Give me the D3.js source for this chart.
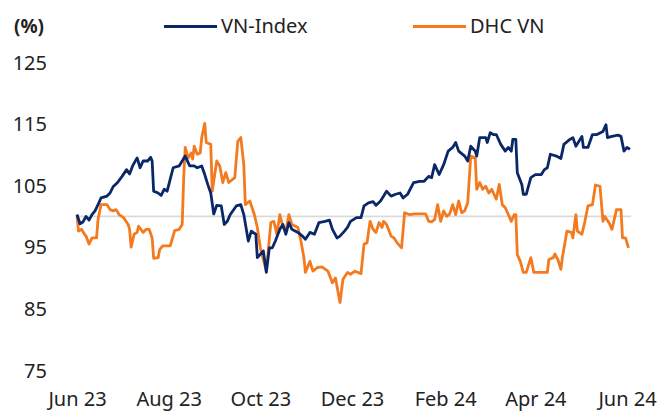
<!DOCTYPE html>
<html>
<head>
<meta charset="utf-8">
<script src="https://cdn.jsdelivr.net/npm/d3@7"></script>
<style>
  body { margin: 0; background: #fff; }
  svg { display: block; font-family: 'Noto Sans', 'Open Sans', sans-serif; }
</style>
</head>
<body>
<svg id="chart" width="661" height="411"></svg>
<script>

// series, rebased to 100 at start (%)
var vnDates = [
  '2023-06-01','2023-06-03','2023-06-05','2023-06-07','2023-06-09','2023-06-11','2023-06-13','2023-06-15','2023-06-17','2023-06-21','2023-06-23','2023-06-25','2023-06-28',
  '2023-07-01','2023-07-04','2023-07-06','2023-07-08','2023-07-11','2023-07-13','2023-07-15','2023-07-18','2023-07-20','2023-07-21','2023-07-22','2023-07-25','2023-07-27','2023-07-29','2023-07-31',
  '2023-08-02','2023-08-04','2023-08-08','2023-08-12','2023-08-15','2023-08-18','2023-08-20','2023-08-23','2023-08-25','2023-08-27','2023-08-29','2023-08-31',
  '2023-09-02','2023-09-05','2023-09-07','2023-09-09','2023-09-11','2023-09-15','2023-09-18','2023-09-20','2023-09-23','2023-09-25','2023-09-28','2023-09-29',
  '2023-10-03','2023-10-05','2023-10-07','2023-10-09','2023-10-11','2023-10-14','2023-10-16','2023-10-18','2023-10-20','2023-10-22','2023-10-26','2023-10-29','2023-10-31',
  '2023-11-03','2023-11-06','2023-11-09','2023-11-13','2023-11-16','2023-11-18','2023-11-21','2023-11-23','2023-11-26','2023-11-28','2023-11-30',
  '2023-12-04','2023-12-07','2023-12-09','2023-12-12','2023-12-15','2023-12-17','2023-12-20','2023-12-24','2023-12-27','2023-12-30',
  '2024-01-02','2024-01-04','2024-01-07','2024-01-11','2024-01-15','2024-01-18','2024-01-21','2024-01-23','2024-01-25','2024-01-28','2024-01-31',
  '2024-02-03','2024-02-06','2024-02-08','2024-02-10','2024-02-14','2024-02-16','2024-02-18','2024-02-21','2024-02-22','2024-02-24','2024-02-28','2024-02-29',
  '2024-03-02','2024-03-04','2024-03-06','2024-03-09','2024-03-12','2024-03-14','2024-03-16','2024-03-17','2024-03-19','2024-03-20','2024-03-23','2024-03-24','2024-03-26','2024-03-29',
  '2024-04-01','2024-04-05','2024-04-07','2024-04-09','2024-04-11','2024-04-15','2024-04-18','2024-04-20','2024-04-24','2024-04-26','2024-04-28','2024-04-30',
  '2024-05-02','2024-05-03','2024-05-06','2024-05-09','2024-05-12','2024-05-16','2024-05-18','2024-05-19','2024-05-22','2024-05-26','2024-05-28','2024-05-30',
  '2024-06-01','2024-06-03'
]
var vnValues = [
  100.3, 98.8, 99.1, 100.0, 99.4, 100.3, 100.9, 101.9, 103.0, 103.3, 103.8, 104.8, 105.5,
  106.5, 107.6, 106.9, 108.2, 109.5, 107.9, 109.0, 109.0, 109.6, 109.0, 104.1, 103.8, 103.4, 104.4, 104.1,
  106.0, 107.9, 108.2, 109.8, 108.2, 108.2, 107.9, 108.2, 106.8, 105.2, 103.8, 100.4,
  101.8, 101.7, 98.7, 99.2, 100.3, 101.7, 101.9, 100.3, 96.0, 97.6, 97.1, 93.3,
  94.4, 90.9, 94.9, 94.9, 96.0, 97.9, 98.7, 97.1, 99.0, 97.9, 97.4, 96.8, 96.3,
  97.4, 97.1, 99.0, 99.2, 99.4, 97.9, 96.5, 96.8, 97.6, 98.2, 99.2,
  99.8, 99.8, 101.7, 102.2, 102.4, 101.8, 102.5, 104.1, 103.3, 103.6,
  103.8, 103.0, 103.6, 105.5, 105.7, 105.7, 106.5, 106.3, 108.4, 106.8, 108.4,
  110.6, 111.2, 112.0, 110.6, 109.8, 109.0, 111.4, 110.6, 109.8, 112.8, 112.8, 112.0,
  113.6, 113.3, 113.3, 111.7, 110.6, 111.2, 110.6, 112.5, 112.5, 107.1, 105.2, 103.6, 103.6, 106.3,
  106.8, 106.8, 107.6, 107.9, 110.1, 109.8, 109.4, 111.7, 112.5, 112.8, 111.4, 112.2,
  113.0, 111.2, 111.2, 113.3, 113.3, 113.8, 114.9, 112.8, 113.0, 113.2, 113.0, 110.6,
  111.2, 110.9
]

var dhcDates = [
  '2023-06-01','2023-06-02','2023-06-04','2023-06-06','2023-06-07','2023-06-09','2023-06-11','2023-06-14','2023-06-15','2023-06-17','2023-06-21','2023-06-23','2023-06-25','2023-06-27','2023-06-29',
  '2023-07-02','2023-07-05','2023-07-06','2023-07-07','2023-07-09','2023-07-11','2023-07-12','2023-07-15','2023-07-17','2023-07-19','2023-07-21','2023-07-22','2023-07-25','2023-07-26','2023-07-28',
  '2023-08-02','2023-08-03','2023-08-05','2023-08-08','2023-08-10','2023-08-11','2023-08-12','2023-08-14','2023-08-16','2023-08-17','2023-08-18','2023-08-20','2023-08-22','2023-08-23','2023-08-25','2023-08-26','2023-08-29','2023-08-30',
  '2023-09-02','2023-09-04','2023-09-06','2023-09-08','2023-09-10','2023-09-14','2023-09-16','2023-09-18','2023-09-20','2023-09-21','2023-09-24','2023-09-27','2023-09-29',
  '2023-10-01','2023-10-05','2023-10-08','2023-10-10','2023-10-12','2023-10-14','2023-10-16','2023-10-18','2023-10-20','2023-10-22','2023-10-26','2023-10-28','2023-10-30','2023-10-31',
  '2023-11-03','2023-11-05','2023-11-08','2023-11-11','2023-11-15','2023-11-18','2023-11-20','2023-11-23','2023-11-25','2023-11-28','2023-11-30',
  '2023-12-03','2023-12-07','2023-12-09','2023-12-11','2023-12-13','2023-12-15','2023-12-17','2023-12-19','2023-12-21','2023-12-22','2023-12-24','2023-12-27','2023-12-29','2023-12-31',
  '2024-01-03','2024-01-05','2024-01-08','2024-01-12','2024-01-19','2024-01-21','2024-01-23','2024-01-25','2024-01-27','2024-01-29','2024-01-31',
  '2024-02-02','2024-02-04','2024-02-06','2024-02-08','2024-02-10','2024-02-12','2024-02-14','2024-02-16','2024-02-18','2024-02-21','2024-02-22','2024-02-24','2024-02-26','2024-02-28',
  '2024-03-01','2024-03-03','2024-03-06','2024-03-08','2024-03-10','2024-03-12','2024-03-16','2024-03-18','2024-03-19','2024-03-20','2024-03-22','2024-03-24','2024-03-26','2024-03-29','2024-03-31',
  '2024-04-09','2024-04-10','2024-04-13','2024-04-14','2024-04-16','2024-04-18','2024-04-19','2024-04-22','2024-04-25','2024-04-26','2024-04-28','2024-04-29',
  '2024-05-02','2024-05-04','2024-05-06','2024-05-09','2024-05-11','2024-05-14','2024-05-16','2024-05-17','2024-05-20','2024-05-22','2024-05-25','2024-05-28','2024-05-29','2024-05-31',
  '2024-06-02'
]
var dhcValues = [
  100.2, 97.6, 97.9, 97.1, 96.8, 95.5, 96.5, 96.5, 99.5, 101.9, 101.9, 101.1, 100.9, 101.1, 100.3,
  99.8, 98.7, 97.9, 95.0, 97.1, 97.4, 98.4, 97.4, 97.9, 97.9, 96.5, 93.2, 93.3, 94.6, 95.2,
  95.2, 96.0, 97.7, 97.9, 98.7, 106.3, 111.2, 109.5, 110.3, 109.3, 111.4, 110.1, 110.3, 112.8, 115.1, 112.0, 111.7, 104.1,
  109.0, 108.2, 105.5, 107.1, 105.5, 106.3, 112.2, 112.8, 108.4, 101.9, 102.5, 100.3, 98.2,
  94.9, 91.1, 99.0, 99.2, 97.1, 100.3, 98.2, 97.6, 100.3, 98.7, 98.2, 96.0, 93.3, 90.9,
  92.7, 91.1, 91.7, 91.8, 91.1, 89.2, 90.0, 86.0, 89.8, 90.9, 90.6,
  91.1, 90.7, 95.5, 95.7, 99.2, 97.9, 97.4, 99.0, 98.2, 99.2, 98.7, 96.8, 96.5, 95.7,
  94.9, 100.6, 100.3, 100.4, 100.4, 99.2, 99.1, 99.5, 101.9, 99.2, 100.9,
  100.0, 100.4, 101.9, 100.3, 102.5, 100.6, 100.9, 102.2, 109.8, 109.5, 104.4, 105.5, 104.4, 104.9,
  103.8, 104.4, 102.8, 105.2, 101.9, 101.4, 99.2, 100.3, 100.3, 93.8, 92.7, 90.9, 90.9, 93.3, 90.9,
  90.9, 93.0, 93.3, 93.9, 93.0, 91.4, 93.3, 97.6, 97.4, 96.5, 100.3, 97.6,
  97.1, 99.2, 101.7, 101.9, 105.1, 104.9, 99.2, 100.0, 99.0, 97.9, 101.1, 101.1, 96.5, 96.5,
  94.9
]

var yTicks = [75, 85, 95, 105, 115, 125]
var xTickDates = ['2023-06-01','2023-08-01','2023-10-01','2023-12-01','2024-02-01','2024-04-01','2024-06-01']
var seriesNames = ['VN-Index', 'DHC VN']
var seriesColors = ['#0a2868', '#f47a1f']

var parseDate = d3.timeParse('%Y-%m-%d')
var formatTick = d3.timeFormat('%b %y')

var svg = d3.select('#chart')

var x = d3.scaleTime()
  .domain([parseDate('2023-06-01'), parseDate('2024-06-01')])
  .range([77, 627])

var y = d3.scaleLinear()
  .domain([75, 125])
  .range([370.3, 62.5])

var vnData = vnDates.map((d, i) => ({ date: parseDate(d), value: vnValues[i] }))
var dhcData = dhcDates.map((d, i) => ({ date: parseDate(d), value: dhcValues[i] }))

// y axis, labels only
var yAxis = d3.axisLeft(y).tickValues(yTicks).tickSize(0).tickPadding(0)
var gy = svg.append('g').attr('transform', 'translate(47,0)').call(yAxis)
gy.select('.domain').remove()
gy.selectAll('text')
  .attr('font-size', 20)
  .attr('fill', '#222')
  .attr('font-family', "'Noto Sans', sans-serif")
  .attr('dy', '0.34em')

// x axis, labels only (baseline kept just inside the bottom edge)
var xAxis = d3.axisBottom(x)
  .tickValues(xTickDates.map(parseDate))
  .tickFormat(formatTick)
  .tickSize(0)
  .tickPadding(0)
var gx = svg.append('g').attr('transform', 'translate(0,405.5)').call(xAxis)
gx.select('.domain').remove()
gx.selectAll('text')
  .attr('font-size', 20)
  .attr('fill', '#222')
  .attr('font-family', "'Noto Sans', sans-serif")
  .attr('dy', 0)
  .attr('y', 0)

// reference line at 100
var lastDate = d3.max(vnData, d => d.date)
svg.append('line')
  .attr('x1', x(vnData[0].date))
  .attr('x2', x(lastDate) + 1)
  .attr('y1', y(100))
  .attr('y2', y(100))
  .attr('stroke', '#d9d9d9')
  .attr('stroke-width', 1.6)

var line = d3.line()
  .x(d => x(d.date))
  .y(d => y(d.value))

svg.append('path')
  .datum(dhcData)
  .attr('d', line)
  .attr('fill', 'none')
  .attr('stroke', seriesColors[1])
  .attr('stroke-width', 2.8)
  .attr('stroke-linejoin', 'round')

svg.append('path')
  .datum(vnData)
  .attr('d', line)
  .attr('fill', 'none')
  .attr('stroke', seriesColors[0])
  .attr('stroke-width', 2.8)
  .attr('stroke-linejoin', 'round')

// unit label
svg.append('text')
  .attr('x', 14)
  .attr('y', 33)
  .attr('font-size', 19)
  .attr('font-weight', 'bold')
  .attr('fill', '#222')
  .text('(%)')

// legend
var legendX = [164, 413]
seriesNames.forEach(function(name, i) {
  svg.append('line')
    .attr('x1', legendX[i])
    .attr('x2', legendX[i] + 53)
    .attr('y1', 26.5)
    .attr('y2', 26.5)
    .attr('stroke', seriesColors[i])
    .attr('stroke-width', 2.8)
  svg.append('text')
    .attr('x', legendX[i] + 57)
    .attr('y', 33)
    .attr('font-size', 20)
    .attr('fill', '#222')
    .text(name)
})

</script>
</body>
</html>
